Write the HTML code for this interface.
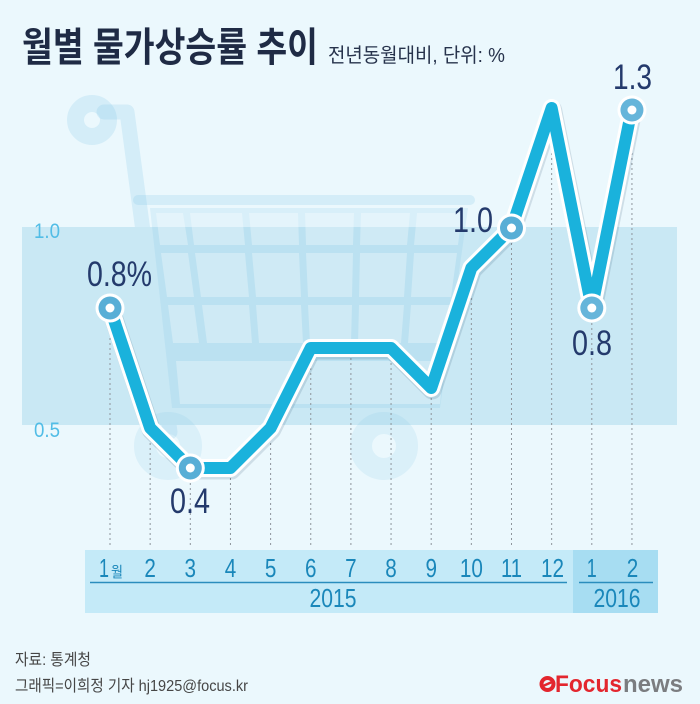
<!DOCTYPE html>
<html>
<head>
<meta charset="utf-8">
<style>
html,body{margin:0;padding:0;background:#ebf8fd;}
svg{display:block;}
text{font-family:"Liberation Sans","Noto Sans CJK KR",sans-serif;}
</style>
</head>
<body>
<svg width="700" height="704" viewBox="0 0 700 704" xmlns="http://www.w3.org/2000/svg">
  <rect x="0" y="0" width="700" height="704" fill="#ebf8fd"/>

  <!-- cart (behind band) -->
  <g fill="none" stroke="rgba(120,195,228,0.2)" stroke-linecap="round" stroke-linejoin="round">
    <circle cx="92" cy="120" r="16.5" stroke-width="17"/>
    <polyline points="104,112 127,112 170,432" stroke-width="15"/>
    <line x1="138" y1="200" x2="470" y2="200" stroke-width="10"/>
    <line x1="172" y1="414" x2="440" y2="414" stroke-width="10"/>
  </g>

  <!-- band -->
  <rect x="22" y="227" width="655" height="198" fill="#c9e8f4"/>

  <!-- cart body over band (translucent) -->
  <g>
    <polygon points="150,208 468,208 440,408 172,408" fill="rgba(120,195,228,0.16)"/>
    <g fill="rgba(255,255,255,0.3)">
      <polygon points="156,213 183,213 188,245 160,245"/>
      <polygon points="190,213 242,213 245,245 194,245"/>
      <polygon points="249,213 298,213 299,245 252,245"/>
      <polygon points="305,213 354,213 353,245 306,245"/>
      <polygon points="361,213 410,213 407,245 360,245"/>
      <polygon points="417,213 462,213 458,245 414,245"/>

      <polygon points="161,253 188,253 194,297 167,297"/>
      <polygon points="195,253 245,253 249,297 201,297"/>
      <polygon points="252,253 299,253 301,297 256,297"/>
      <polygon points="306,253 353,253 352,297 308,297"/>
      <polygon points="360,253 407,253 404,297 359,297"/>
      <polygon points="414,253 457,253 451,297 411,297"/>

      <polygon points="168,305 194,305 199,343 173,343"/>
      <polygon points="202,305 249,305 252,343 207,343"/>
      <polygon points="256,305 301,305 303,343 259,343"/>
      <polygon points="308,305 352,305 351,343 310,343"/>
      <polygon points="359,305 404,305 401,343 358,343"/>
      <polygon points="411,305 450,305 445,343 408,343"/>

      <polygon points="176,361 444,361 440,404 180,404"/>
    </g>
    <g fill="none" stroke="rgba(120,195,228,0.15)">
      <circle cx="168" cy="446" r="23" stroke-width="22"/>
      <circle cx="384" cy="446" r="23" stroke-width="22"/>
    </g>
  </g>

  <!-- axis labels -->
  <text x="34" y="238" font-size="21" fill="#52bde6" textLength="26" lengthAdjust="spacingAndGlyphs">1.0</text>
  <text x="34" y="437" font-size="21" fill="#52bde6" textLength="26" lengthAdjust="spacingAndGlyphs">0.5</text>

  <!-- dotted verticals -->
  <g stroke="#8e959c" stroke-width="1" stroke-dasharray="2,3">
    <line x1="110" y1="308" x2="110" y2="545"/>
    <line x1="150.15" y1="428" x2="150.15" y2="545"/>
    <line x1="190.3" y1="468" x2="190.3" y2="545"/>
    <line x1="230.45" y1="468" x2="230.45" y2="545"/>
    <line x1="270.6" y1="428" x2="270.6" y2="545"/>
    <line x1="310.75" y1="348" x2="310.75" y2="545"/>
    <line x1="350.9" y1="348" x2="350.9" y2="545"/>
    <line x1="391.05" y1="348" x2="391.05" y2="545"/>
    <line x1="431.2" y1="388" x2="431.2" y2="545"/>
    <line x1="471.35" y1="268" x2="471.35" y2="545"/>
    <line x1="511.5" y1="228" x2="511.5" y2="545"/>
    <line x1="551.65" y1="108" x2="551.65" y2="545"/>
    <line x1="591.8" y1="308" x2="591.8" y2="545"/>
    <line x1="631.95" y1="108" x2="631.95" y2="545"/>
  </g>

  <!-- data line -->
  <g fill="none" stroke-linejoin="round" stroke-linecap="round">
    <polyline transform="translate(1,2)" stroke="rgba(0,40,70,0.12)" stroke-width="19"
      points="110,308 150.15,428 190.3,468 230.45,468 270.6,428 310.75,348 350.9,348 391.05,348 431.2,388 471.35,268 511.5,228 551.65,108 591.8,308 631.95,108"/>
    <polyline stroke="#ffffff" stroke-width="18"
      points="110,308 150.15,428 190.3,468 230.45,468 270.6,428 310.75,348 350.9,348 391.05,348 431.2,388 471.35,268 511.5,228 551.65,108 591.8,308 631.95,108"/>
    <polyline stroke="#1ab2dc" stroke-width="12"
      points="110,308 150.15,428 190.3,468 230.45,468 270.6,428 310.75,348 350.9,348 391.05,348 431.2,388 471.35,268 511.5,228 551.65,108 591.8,308 631.95,108"/>
  </g>

  <!-- markers -->
  <g>
    <g transform="translate(110,308)"><circle r="14.5" fill="#fff"/><circle r="11.5" fill="#58aed6"/><circle r="4.5" fill="#fff"/></g>
    <g transform="translate(190.3,468)"><circle r="14.5" fill="#fff"/><circle r="11.5" fill="#58aed6"/><circle r="4.5" fill="#fff"/></g>
    <g transform="translate(511.5,228)"><circle r="14.5" fill="#fff"/><circle r="11.5" fill="#58aed6"/><circle r="4.5" fill="#fff"/></g>
    <g transform="translate(591.8,308)"><circle r="14.5" fill="#fff"/><circle r="11.5" fill="#66b5da"/><circle r="4.5" fill="#fff"/></g>
    <g transform="translate(631.95,110)"><circle r="14.5" fill="#fff"/><circle r="11.5" fill="#66b5da"/><circle r="4.5" fill="#fff"/></g>
  </g>

  <!-- value labels -->
  <g font-size="35" fill="#243a6c">
    <text x="87" y="286" textLength="65" lengthAdjust="spacingAndGlyphs">0.8%</text>
    <text x="170" y="513" textLength="40" lengthAdjust="spacingAndGlyphs">0.4</text>
    <text x="453" y="232" textLength="40" lengthAdjust="spacingAndGlyphs">1.0</text>
    <text x="613" y="89" textLength="39" lengthAdjust="spacingAndGlyphs">1.3</text>
    <text x="572" y="355" textLength="40" lengthAdjust="spacingAndGlyphs">0.8</text>
  </g>

  <!-- x axis box -->
  <rect x="85" y="550" width="488" height="63" fill="#c4eaf8"/>
  <rect x="573" y="550" width="85" height="63" fill="#a7ddf2"/>
  <line x1="90" y1="582.5" x2="567" y2="582.5" stroke="#2a8dbd" stroke-width="1.5"/>
  <line x1="579" y1="582.5" x2="653" y2="582.5" stroke="#2a8dbd" stroke-width="1.5"/>

  <g font-size="26" fill="#1a87ba" text-anchor="middle">
    <text x="104" y="577" textLength="10" lengthAdjust="spacingAndGlyphs">1</text>
    <text x="150.15" y="577" textLength="11.5" lengthAdjust="spacingAndGlyphs">2</text>
    <text x="190.3" y="577" textLength="11.5" lengthAdjust="spacingAndGlyphs">3</text>
    <text x="230.45" y="577" textLength="11.5" lengthAdjust="spacingAndGlyphs">4</text>
    <text x="270.6" y="577" textLength="11.5" lengthAdjust="spacingAndGlyphs">5</text>
    <text x="310.75" y="577" textLength="11.5" lengthAdjust="spacingAndGlyphs">6</text>
    <text x="350.9" y="577" textLength="11.5" lengthAdjust="spacingAndGlyphs">7</text>
    <text x="391.05" y="577" textLength="11.5" lengthAdjust="spacingAndGlyphs">8</text>
    <text x="431.2" y="577" textLength="11.5" lengthAdjust="spacingAndGlyphs">9</text>
    <text x="471.35" y="577" textLength="23" lengthAdjust="spacingAndGlyphs">10</text>
    <text x="511.5" y="577" textLength="21" lengthAdjust="spacingAndGlyphs">11</text>
    <text x="552.5" y="577" textLength="23" lengthAdjust="spacingAndGlyphs">12</text>
    <text x="591.8" y="577" textLength="10" lengthAdjust="spacingAndGlyphs">1</text>
    <text x="632.5" y="577" textLength="11.5" lengthAdjust="spacingAndGlyphs">2</text>
    <text x="333" y="607" textLength="47" lengthAdjust="spacingAndGlyphs">2015</text>
    <text x="617" y="607" textLength="47" lengthAdjust="spacingAndGlyphs">2016</text>
  </g>
  <text x="111" y="577" font-size="15" fill="#1a87ba" textLength="12" lengthAdjust="spacingAndGlyphs">월</text>

  <!-- title -->
  <text x="22" y="61" font-size="40" font-weight="bold" fill="#1f2b45" textLength="296" lengthAdjust="spacingAndGlyphs">월별 물가상승률 추이</text>
  <text x="328" y="62" font-size="20" fill="#27334c" textLength="177" lengthAdjust="spacingAndGlyphs">전년동월대비, 단위: %</text>

  <!-- footer -->
  <text x="15" y="665" font-size="16" fill="#464646" textLength="76" lengthAdjust="spacingAndGlyphs">자료: 통계청</text>
  <text x="15" y="691" font-size="16" fill="#464646" textLength="233" lengthAdjust="spacingAndGlyphs">그래픽=이희정 기자 hj1925@focus.kr</text>

  <!-- logo -->
  <g>
    <circle cx="547.5" cy="684" r="6" fill="none" stroke="#e3262e" stroke-width="4"/>
    <path d="M543 686 L552 682" stroke="#e3262e" stroke-width="2.5"/>
    <text x="555" y="692" font-size="24" font-weight="bold" fill="#e3262e" textLength="67" lengthAdjust="spacingAndGlyphs">Focus</text>
    <text x="623" y="692" font-size="24" font-weight="bold" fill="#7b7d80" textLength="60" lengthAdjust="spacingAndGlyphs">news</text>
  </g>
</svg>
</body>
</html>
